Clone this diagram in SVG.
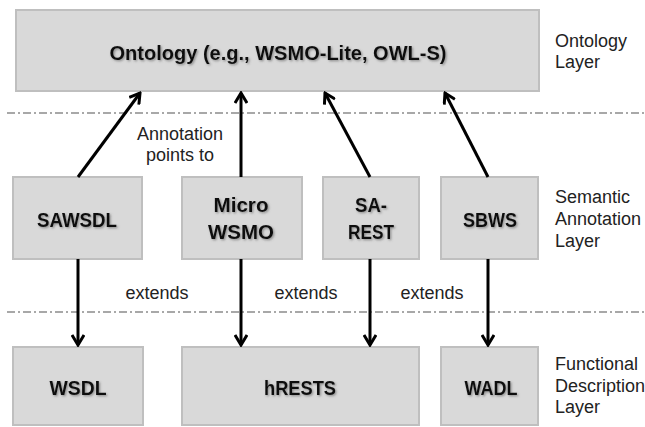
<svg xmlns="http://www.w3.org/2000/svg" width="645" height="427" viewBox="0 0 645 427">
  <style>
    .box { fill: #d9d9d9; stroke: #bfbfbf; stroke-width: 2; }
    .title { font-family: "Liberation Sans", Arial, sans-serif; font-weight: bold; font-size: 21px; fill: #111; text-anchor: middle; filter: url(#shadow); }
    .note { font-family: "Liberation Sans", Arial, sans-serif; font-size: 18px; fill: #222; }
    .mid { text-anchor: middle; }
    .sep { stroke: #8c8c8c; stroke-width: 1.5; stroke-dasharray: 8 3 2 3; fill: none; }
    .conn { stroke: #000; stroke-width: 3; fill: none; marker-end: url(#arrow); }
  </style>
  <defs>
    <marker id="arrow" viewBox="0 0 14 14" refX="12" refY="7" markerWidth="14" markerHeight="14" markerUnits="userSpaceOnUse" orient="auto">
      <path d="M2,1 L12,7 L2,13" fill="none" stroke="#000" stroke-width="3" stroke-linejoin="miter"/>
    </marker>
    <filter id="shadow" x="-10%" y="-30%" width="120%" height="160%">
      <feDropShadow dx="1.2" dy="1.2" stdDeviation="0.8" flood-color="#555" flood-opacity="0.6"/>
    </filter>
  </defs>

  <!-- layer separators -->
  <line class="sep" x1="7" y1="113" x2="645" y2="113"/>
  <line class="sep" x1="7" y1="312" x2="645" y2="312"/>

  <!-- ontology layer -->
  <g id="ontology">
    <rect class="box" x="16" y="10" width="523" height="81"/>
    <text class="title" x="278" y="60" textLength="337" lengthAdjust="spacingAndGlyphs">Ontology (e.g., WSMO-Lite, OWL-S)</text>
  </g>

  <!-- semantic annotation layer -->
  <g id="sawsdl">
    <rect class="box" x="13" y="177" width="129" height="82"/>
    <text class="title" x="77" y="227" textLength="80" lengthAdjust="spacingAndGlyphs">SAWSDL</text>
  </g>
  <g id="microwsmo">
    <rect class="box" x="182" y="177" width="120" height="82"/>
    <text class="title" x="241" y="212" textLength="55" lengthAdjust="spacingAndGlyphs">Micro</text>
    <text class="title" x="241" y="239" textLength="66" lengthAdjust="spacingAndGlyphs">WSMO</text>
  </g>
  <g id="sarest">
    <rect class="box" x="323" y="177" width="96" height="82"/>
    <text class="title" x="371" y="212" textLength="32" lengthAdjust="spacingAndGlyphs">SA-</text>
    <text class="title" x="371" y="239" textLength="46" lengthAdjust="spacingAndGlyphs">REST</text>
  </g>
  <g id="sbws">
    <rect class="box" x="441" y="177" width="97" height="82"/>
    <text class="title" x="490" y="227" textLength="54" lengthAdjust="spacingAndGlyphs">SBWS</text>
  </g>

  <!-- functional description layer -->
  <g id="wsdl">
    <rect class="box" x="13" y="347" width="130" height="78"/>
    <text class="title" x="78" y="395" textLength="57" lengthAdjust="spacingAndGlyphs">WSDL</text>
  </g>
  <g id="hrests">
    <rect class="box" x="182" y="347" width="237" height="78"/>
    <text class="title" x="300" y="395" textLength="72" lengthAdjust="spacingAndGlyphs">hRESTS</text>
  </g>
  <g id="wadl">
    <rect class="box" x="441" y="347" width="97" height="78"/>
    <text class="title" x="491" y="395" textLength="53" lengthAdjust="spacingAndGlyphs">WADL</text>
  </g>

  <!-- layer labels -->
  <g id="layer-labels" class="note">
    <text x="555" y="47">Ontology</text>
    <text x="555" y="68">Layer</text>
    <text x="555" y="203">Semantic</text>
    <text x="555" y="225">Annotation</text>
    <text x="555" y="247">Layer</text>
    <text x="555" y="370">Functional</text>
    <text x="555" y="392">Description</text>
    <text x="555" y="413">Layer</text>
  </g>

  <!-- connectors -->
  <g id="connectors">
    <path class="conn" d="M78,177 L140,93"/>
    <path class="conn" d="M241,177 L241,93"/>
    <path class="conn" d="M370,177 L325,93"/>
    <path class="conn" d="M488,177 L445,93"/>
    <path class="conn" d="M78,259 L78,345"/>
    <path class="conn" d="M241,259 L241,345"/>
    <path class="conn" d="M370,259 L370,345"/>
    <path class="conn" d="M488,259 L488,345"/>
    <text class="note mid" x="180" y="140">Annotation</text>
    <text class="note mid" x="180" y="161">points to</text>
    <text class="note mid" x="157" y="299">extends</text>
    <text class="note mid" x="306" y="299">extends</text>
    <text class="note mid" x="432" y="299">extends</text>
  </g>
</svg>
